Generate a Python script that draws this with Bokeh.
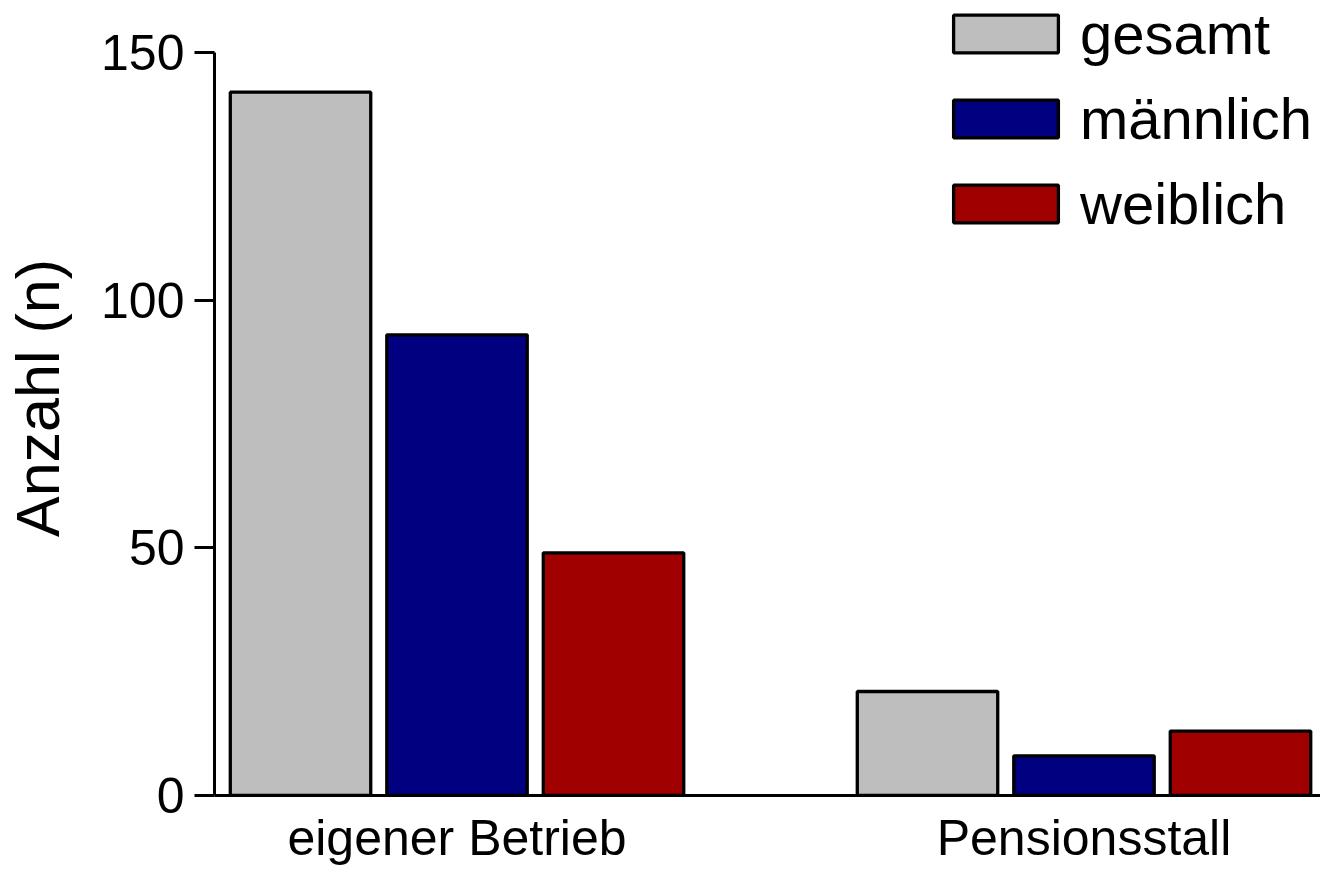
from bokeh.plotting import figure
from bokeh.models import ColumnDataSource, Range1d, FixedTicker, Legend, LegendItem
from bokeh.transform import dodge
from bokeh.embed import file_html
from bokeh.resources import INLINE

categories = ["eigener Betrieb", "Pensionsstall"]
series = ["gesamt", "männlich", "weiblich"]
gesamt = [142, 21]
maennlich = [93, 8]
weiblich = [49, 13]
y_ticks = [0, 50, 100, 150]

colors = ["#BEBEBE", "#000080", "#A00000"]
FONT = "Liberation Sans"

src = ColumnDataSource(dict(x=list(range(len(categories))), gesamt=gesamt,
                            maennlich=maennlich, weiblich=weiblich))

p = figure(width=1320, height=868, output_backend="svg", toolbar_location=None,
           x_range=Range1d(-0.3868, 1.3772), y_range=Range1d(0, 160.5),
           min_border_left=214, min_border_right=0, min_border_top=0, min_border_bottom=70)
p.outline_line_color = None
p.grid.grid_line_color = None
p.background_fill_color = "white"

cols = ["gesamt", "maennlich", "weiblich"]
offsets = [-0.2496, 0.0, 0.2496]
renderers = []
for col, off, c in zip(cols, offsets, colors):
    r = p.vbar(x=dodge("x", off), top=col, width=0.224, bottom=0, source=src,
               fill_color=c, line_color="black", line_width=3.3)
    renderers.append(r)

legend = Legend(items=[LegendItem(label=s, renderers=[r]) for s, r in zip(series, renderers)],
                location=(726, 558), border_line_color=None, background_fill_alpha=0,
                label_text_font=FONT, label_text_font_size="58px", label_text_color="black",
                glyph_width=131, glyph_height=47, label_standoff=9,
                spacing=18, padding=0, margin=0, label_text_line_height=0.9)
p.add_layout(legend)

# x axis
xa = p.xaxis[0]
xa.ticker = FixedTicker(ticks=list(range(len(categories))))
xa.major_label_overrides = {i: c for i, c in enumerate(categories)}
xa.major_tick_line_color = None
xa.minor_tick_line_color = None
xa.axis_line_width = 3
xa.axis_line_color = "black"
xa.major_label_text_font = FONT
xa.major_label_text_font_size = "50px"
xa.major_label_text_color = "black"
xa.major_label_text_line_height = 1.0
xa.major_label_standoff = 8

# y axis
ya = p.yaxis[0]
ya.ticker = FixedTicker(ticks=y_ticks)
ya.bounds = (0, 150)
ya.axis_line_width = 3
ya.axis_line_color = "black"
ya.major_tick_line_width = 3
ya.major_tick_out = 20
ya.major_tick_in = 0
ya.minor_tick_line_color = None
ya.major_label_text_font = FONT
ya.major_label_text_font_size = "50px"
ya.major_label_text_color = "black"
ya.major_label_standoff = 10
ya.axis_label = "Anzahl (n)"
ya.axis_label_text_font = FONT
ya.axis_label_text_font_size = "61px"
ya.axis_label_text_font_style = "normal"
ya.axis_label_text_color = "black"
ya.axis_label_standoff = 26

open("out.html", "w").write(file_html(p, INLINE))
